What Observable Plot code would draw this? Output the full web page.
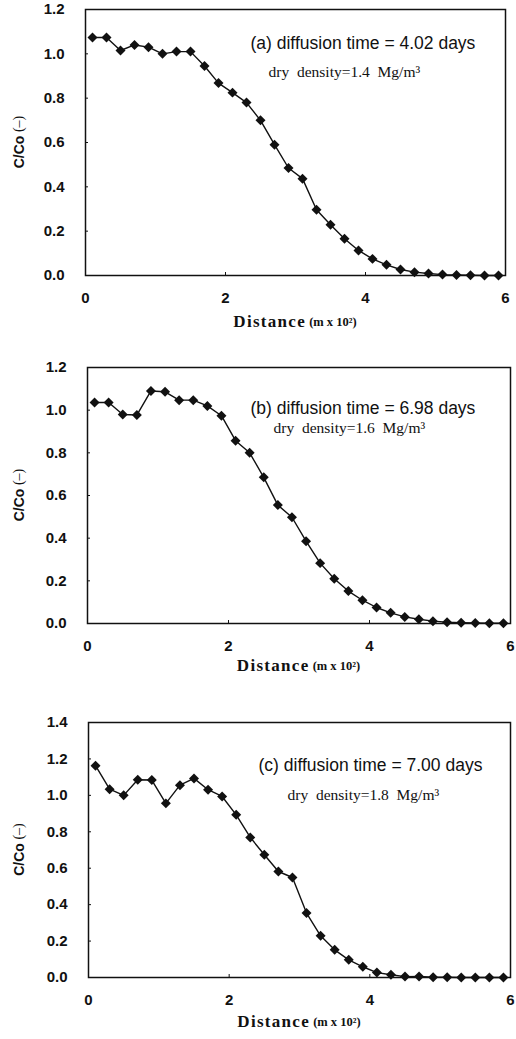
<!DOCTYPE html>
<html><head><meta charset="utf-8">
<script src="https://cdn.jsdelivr.net/npm/d3@7"></script>
<script src="https://cdn.jsdelivr.net/npm/@observablehq/plot@0.6"></script>
<style>
body{margin:0;background:#fff}
#wrap{position:relative;width:516px;height:1039px;overflow:hidden}
#wrap svg{position:absolute;left:0}
</style>
</head><body><div id="wrap"></div>
<script>
// Distance (m x 10^2) of each sampling point
const distance = [0.1,0.3,0.5,0.7,0.9,1.1,1.3,1.5,1.7,1.9,2.1,2.3,2.5,2.7,2.9,3.1,3.3,3.5,3.7,3.9,4.1,4.3,4.5,4.7,4.9,5.1,5.3,5.5,5.7,5.9];
// C/Co values
const ratioA = [1.074,1.074,1.015,1.04,1.03,1.0,1.01,1.01,0.945,0.868,0.825,0.78,0.70,0.59,0.485,0.437,0.297,0.229,0.166,0.113,0.075,0.048,0.027,0.015,0.009,0.004,0.002,0.001,0.0,0.0];
const ratioB = [1.036,1.036,0.98,0.977,1.09,1.086,1.047,1.047,1.02,0.974,0.857,0.80,0.685,0.555,0.498,0.386,0.283,0.21,0.152,0.109,0.075,0.05,0.031,0.02,0.011,0.006,0.004,0.002,0.001,0.001];
const ratioC = [1.163,1.034,1.0,1.086,1.084,0.956,1.056,1.093,1.031,0.994,0.893,0.769,0.674,0.582,0.549,0.354,0.229,0.152,0.097,0.059,0.027,0.015,0.005,0.006,0.001,0.001,0.0,0.0,0.0,0.0];
// Tick values
const xTicks = [0,2,4,6];
const yTicksAB = [0,0.2,0.4,0.6,0.8,1.0,1.2];
const yTicksC = [0,0.2,0.4,0.6,0.8,1.0,1.2,1.4];
// Texts
const panelTitles = ["(a) diffusion time = 4.02 days","(b) diffusion time = 6.98 days","(c) diffusion time = 7.00 days"];
const densityTexts = ["dry  density=1.4  Mg/m³","dry  density=1.6  Mg/m³","dry  density=1.8  Mg/m³"];
const yMaxes = [1.2,1.2,1.4];

const layouts = [
  {top:0,   height:340, mt:9,  mb:65, ml:85, mr:11, tx:165, ty:34, dx2:183, dy2:63, xlab:48},
  {top:340, height:350, mt:27, mb:67, ml:87, mr:6,  tx:163, ty:41, dx2:186, dy2:61, xlab:44},
  {top:690, height:349, mt:32, mb:62, ml:88, mr:6,  tx:170, ty:43, dx2:199, dy2:73, xlab:46}
];
const series = [ratioA, ratioB, ratioC];
const yTicks = [yTicksAB, yTicksAB, yTicksC];
const sans = "'Liberation Sans', Arial, sans-serif";
const serif = "'Liberation Serif', 'Times New Roman', serif";
const wrap = document.getElementById("wrap");

series.forEach((vals, i) => {
  const L = layouts[i];
  const data = distance.map((d, j) => ({d, v: vals[j]}));
  const chart = Plot.plot({
    width: 516, height: L.height,
    marginTop: L.mt, marginBottom: L.mb, marginLeft: L.ml, marginRight: L.mr,
    x: {domain: [0, 6]},
    y: {domain: [0, yMaxes[i]]},
    style: {fontFamily: sans, color: "#111", background: "transparent"},
    marks: [
      Plot.axisX({ticks: xTicks, tickSize: -3, tickPadding: 20, tickFormat: d => String(d), fontSize: 15, fontWeight: "bold", label: null, strokeWidth: 1}),
      Plot.axisY({ticks: yTicks[i], tickSize: -3, tickPadding: 24, tickFormat: d3.format(".1f"), fontSize: 15, fontWeight: "bold", label: null, strokeWidth: 1}),
      Plot.line(data, {x: "d", y: "v", stroke: "#111", strokeWidth: 1.4}),
      Plot.dot(data, {x: "d", y: "v", symbol: "diamond2", r: 4.5, fill: "#111", stroke: "none"}),
      Plot.frame({stroke: "#111", strokeWidth: 1.5}),
      Plot.text([panelTitles[i]], {text: d => d, frameAnchor: "top-left", dx: L.tx, dy: L.ty, textAnchor: "start", lineAnchor: "middle", fontSize: 17.5, fontFamily: sans, fill: "#111"}),
      Plot.text([densityTexts[i]], {text: d => d, frameAnchor: "top-left", dx: L.dx2, dy: L.dy2, textAnchor: "start", lineAnchor: "middle", fontSize: 15.5, fontFamily: serif, fill: "#111"})
    ]
  });
  chart.style.top = L.top + "px";
  wrap.appendChild(chart);
  const svg = d3.select(chart);
  const bottom = L.height - L.mb;
  const xl = svg.append("text")
    .attr("x", (L.ml + 516 - L.mr) / 2)
    .attr("y", bottom + L.xlab)
    .attr("text-anchor", "middle")
    .attr("dominant-baseline", "middle")
    .attr("fill", "#111")
    .attr("font-family", serif)
    .attr("font-weight", "bold");
  xl.append("tspan").attr("font-size", 17).attr("letter-spacing", 1.3).text("Distance");
  xl.append("tspan").attr("font-size", 12.5).text(" (m x 10²)");
  const cy = (L.mt + bottom) / 2, cx = 20;
  const yl = svg.append("text")
    .attr("transform", `translate(${cx},${cy}) rotate(-90)`)
    .attr("text-anchor", "middle")
    .attr("dominant-baseline", "middle")
    .attr("fill", "#111");
  yl.append("tspan").attr("font-family", sans).attr("font-weight", "bold").attr("font-size", 14).text("C/Co");
  yl.append("tspan").attr("font-family", serif).attr("font-size", 14).text(" (–)");
});
</script>
</body></html>
